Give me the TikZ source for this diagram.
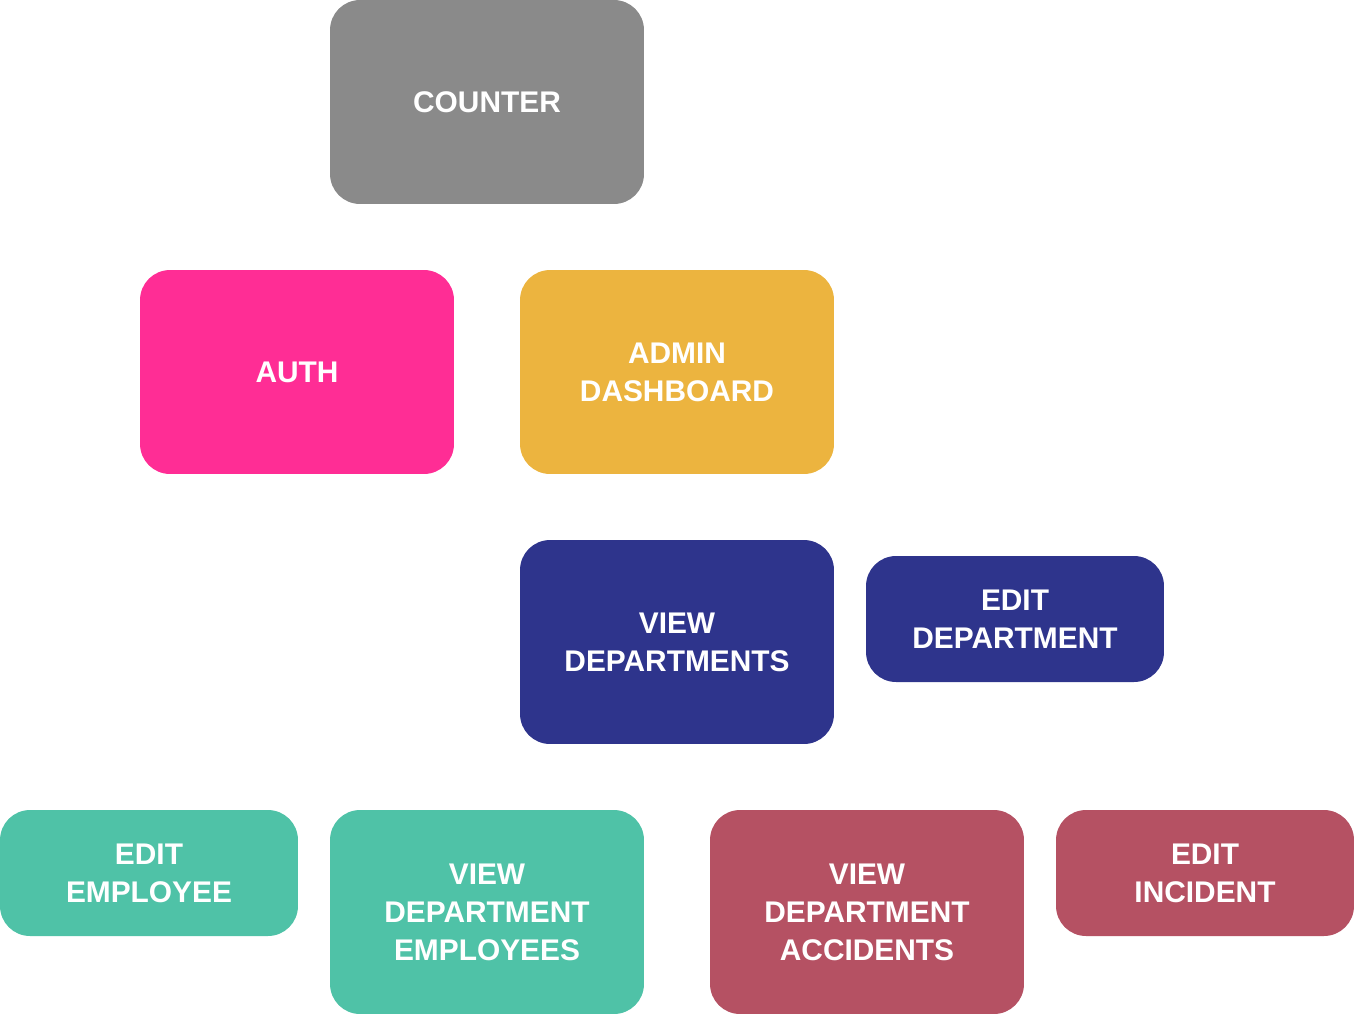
\documentclass[tikz,border=0pt]{standalone}
\usepackage{fontspec}
\setmainfont{Liberation Sans}
\usepackage{tikz}
\definecolor{countergray}{HTML}{8A8A8A}
\definecolor{authpink}{HTML}{FF2D95}
\definecolor{admingold}{HTML}{ECB43F}
\definecolor{deptnavy}{HTML}{2E348C}
\definecolor{emplteal}{HTML}{4FC2A7}
\definecolor{incrose}{HTML}{B55163}

\begin{document}
\begin{tikzpicture}[
x=0.02cm, y=-0.02cm,
font=\bfseries\fontsize{17}{21.6}\selectfont
]
    \tikzstyle{page box}=[rounded corners=0.6cm,inner sep=0,text=white,align=center,text depth=-0.04cm]
    \tikzstyle{big box}=[page box,minimum width=6.28cm,minimum height=4.08cm]
    \tikzstyle{small box}=[page box,minimum width=5.96cm,minimum height=2.52cm]

    \useasboundingbox (0,0) rectangle (1354,1014);

    % top level
    \node(counter)[big box,fill=countergray] at (487,102) {COUNTER};
    % second row
    \node(auth)[big box,fill=authpink] at (297,372) {AUTH};
    \node(admin)[big box,fill=admingold] at (677,372) {ADMIN\\DASHBOARD};
    % departments
    \node(viewdep)[big box,fill=deptnavy] at (677,642) {VIEW\\DEPARTMENTS};
    \node(editdep)[small box,fill=deptnavy] at (1015,619) {EDIT\\DEPARTMENT};
    % employees
    \node(editemp)[small box,fill=emplteal] at (149,873) {EDIT\\EMPLOYEE};
    \node(viewemp)[big box,fill=emplteal] at (487,912) {VIEW\\DEPARTMENT\\EMPLOYEES};
    % accidents
    \node(viewacc)[big box,fill=incrose] at (867,912) {VIEW\\DEPARTMENT\\ACCIDENTS};
    \node(editinc)[small box,fill=incrose] at (1205,873) {EDIT\\INCIDENT};
\end{tikzpicture}
\end{document}
